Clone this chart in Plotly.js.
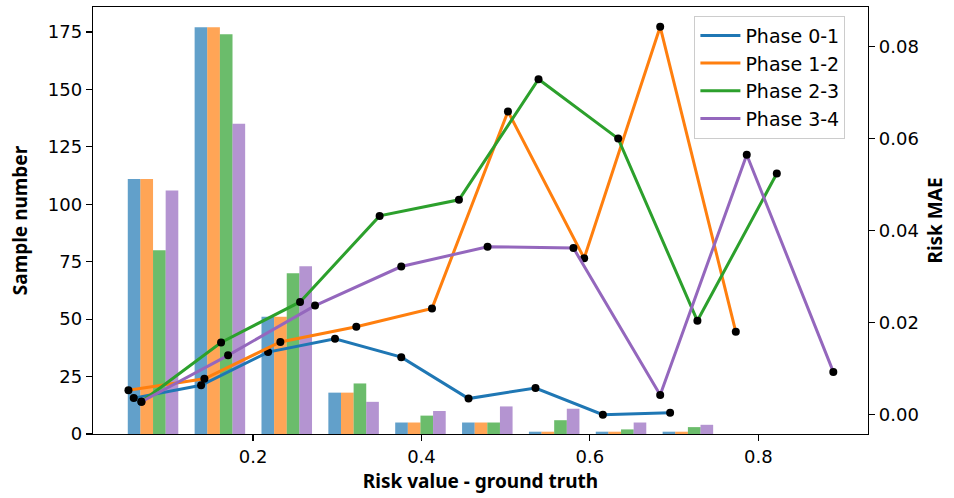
<!DOCTYPE html>
<html>
<head>
<meta charset="utf-8">
<script src="https://cdn.plot.ly/plotly-3.0.1.min.js"></script>
<style>html,body{margin:0;padding:0;background:#fff;}#chart{width:954px;height:498px;}</style>
</head>
<body>
<div id="chart"></div>
<script>
// Bin centres (risk value - ground truth) for the sample-count bars
const binCenters = [0.0812, 0.1606, 0.2400, 0.3194, 0.3988, 0.4782, 0.5576, 0.6370, 0.7164];

// Sample numbers per phase
const countPhase01 = [111, 177, 51, 18, 5, 5, 1, 1, 1];
const countPhase12 = [111, 177, 51, 18, 5, 5, 1, 1, 1];
const countPhase23 = [80, 174, 70, 22, 8, 5, 6, 2, 3];
const countPhase34 = [106, 135, 73, 14, 10, 12, 11, 5, 4];

// Risk MAE curves (x = mean ground-truth risk, y = MAE)
const maeX01 = [0.0583, 0.1383, 0.2178, 0.2973, 0.3760, 0.4559, 0.5354, 0.6154, 0.6953];
const maeY01 = [0.0036, 0.0064, 0.0136, 0.0165, 0.0125, 0.0035, 0.0058, 0.0000, 0.0004];
const maeX12 = [0.0520, 0.1422, 0.2324, 0.3226, 0.4125, 0.5027, 0.5932, 0.6835, 0.7733];
const maeY12 = [0.0053, 0.0078, 0.0158, 0.0191, 0.0231, 0.0659, 0.0340, 0.0843, 0.0180];
const maeX23 = [0.0674, 0.1620, 0.2558, 0.3503, 0.4445, 0.5390, 0.6336, 0.7277, 0.8220];
const maeY23 = [0.0028, 0.0157, 0.0245, 0.0432, 0.0467, 0.0729, 0.0600, 0.0204, 0.0524];
const maeX34 = [0.0674, 0.1703, 0.2736, 0.3760, 0.4785, 0.5805, 0.6835, 0.7863, 0.8891];
const maeY34 = [0.0028, 0.0129, 0.0237, 0.0322, 0.0365, 0.0362, 0.0043, 0.0565, 0.0093];

const phaseNames = ['Phase 0-1', 'Phase 1-2', 'Phase 2-3', 'Phase 3-4'];
const colors = ['#1f77b4', '#ff7f0e', '#2ca02c', '#9467bd'];

const counts = [countPhase01, countPhase12, countPhase23, countPhase34];
const maeX = [maeX01, maeX12, maeX23, maeX34];
const maeY = [maeY01, maeY12, maeY23, maeY34];

const barWidth = 0.015;
const traces = [];
counts.forEach((c, i) => {
  traces.push({
    type: 'bar', x: binCenters, y: c, name: phaseNames[i],
    width: barWidth, offset: -2 * barWidth + i * barWidth,
    marker: {color: colors[i], opacity: 0.7, line: {width: 0}},
    showlegend: false, xaxis: 'x', yaxis: 'y', hoverinfo: 'skip'
  });
});
maeX.forEach((xs, i) => {
  traces.push({
    type: 'scatter', mode: 'lines', x: xs, y: maeY[i], name: phaseNames[i],
    line: {color: colors[i], width: 3}, xaxis: 'x', yaxis: 'y2'
  });
  traces.push({
    type: 'scatter', mode: 'markers', x: xs, y: maeY[i], name: phaseNames[i] + ' pts',
    marker: {color: '#000', size: 8}, showlegend: false, xaxis: 'x', yaxis: 'y2'
  });
});

const tickFont = {family: 'DejaVu Sans', size: 18, color: '#000'};
const titleFont = {family: 'Noto Sans', size: 19, color: '#000', weight: 'bold'};

const layout = {
  width: 954, height: 498,
  margin: {l: 92.5, r: 86, t: 7, b: 63.7, pad: 0},
  paper_bgcolor: '#fff', plot_bgcolor: '#fff',
  barmode: 'overlay',
  showlegend: true,
  legend: {
    x: 0.776, y: 0.98, xanchor: 'left', yanchor: 'top',
    font: {family: 'DejaVu Sans', size: 19, color: '#000'},
    bgcolor: 'rgba(255,255,255,0.8)', bordercolor: '#cccccc', borderwidth: 1,
    tracegroupgap: 0, itemwidth: 40
  },
  xaxis: {
    range: [0.0099, 0.9303], tickvals: [0.2, 0.4, 0.6, 0.8], ticktext: ['0.2', '0.4', '0.6', '0.8'],
    ticks: 'outside', ticklen: 6, tickwidth: 1.2, tickcolor: '#000',
    showline: true, linecolor: '#000', linewidth: 1.2, mirror: true,
    showgrid: false, zeroline: false, tickfont: tickFont,
    title: {text: 'Risk value - ground truth', font: titleFont, standoff: 9}
  },
  yaxis: {
    range: [0, 185.85], tickvals: [0, 25, 50, 75, 100, 125, 150, 175],
    ticks: 'outside', ticklen: 6, tickwidth: 1.2, tickcolor: '#000',
    showline: true, linecolor: '#000', linewidth: 1.2,
    showgrid: false, zeroline: false, tickfont: tickFont,
    title: {text: 'Sample number', font: titleFont, standoff: 15}
  },
  yaxis2: {
    range: [-0.0042, 0.0886], overlaying: 'y', side: 'right', anchor: 'x',
    tickvals: [0, 0.02, 0.04, 0.06, 0.08], ticktext: ['0.00', '0.02', '0.04', '0.06', '0.08'],
    ticks: 'outside', ticklen: 6, tickwidth: 1.2, tickcolor: '#000',
    showline: true, linecolor: '#000', linewidth: 1.2,
    showgrid: false, zeroline: false, tickfont: tickFont,
    title: {text: 'Risk MAE', font: titleFont, standoff: 10}
  }
};

Plotly.newPlot('chart', traces, layout, {displayModeBar: false, staticPlot: true});
</script>
</body>
</html>
